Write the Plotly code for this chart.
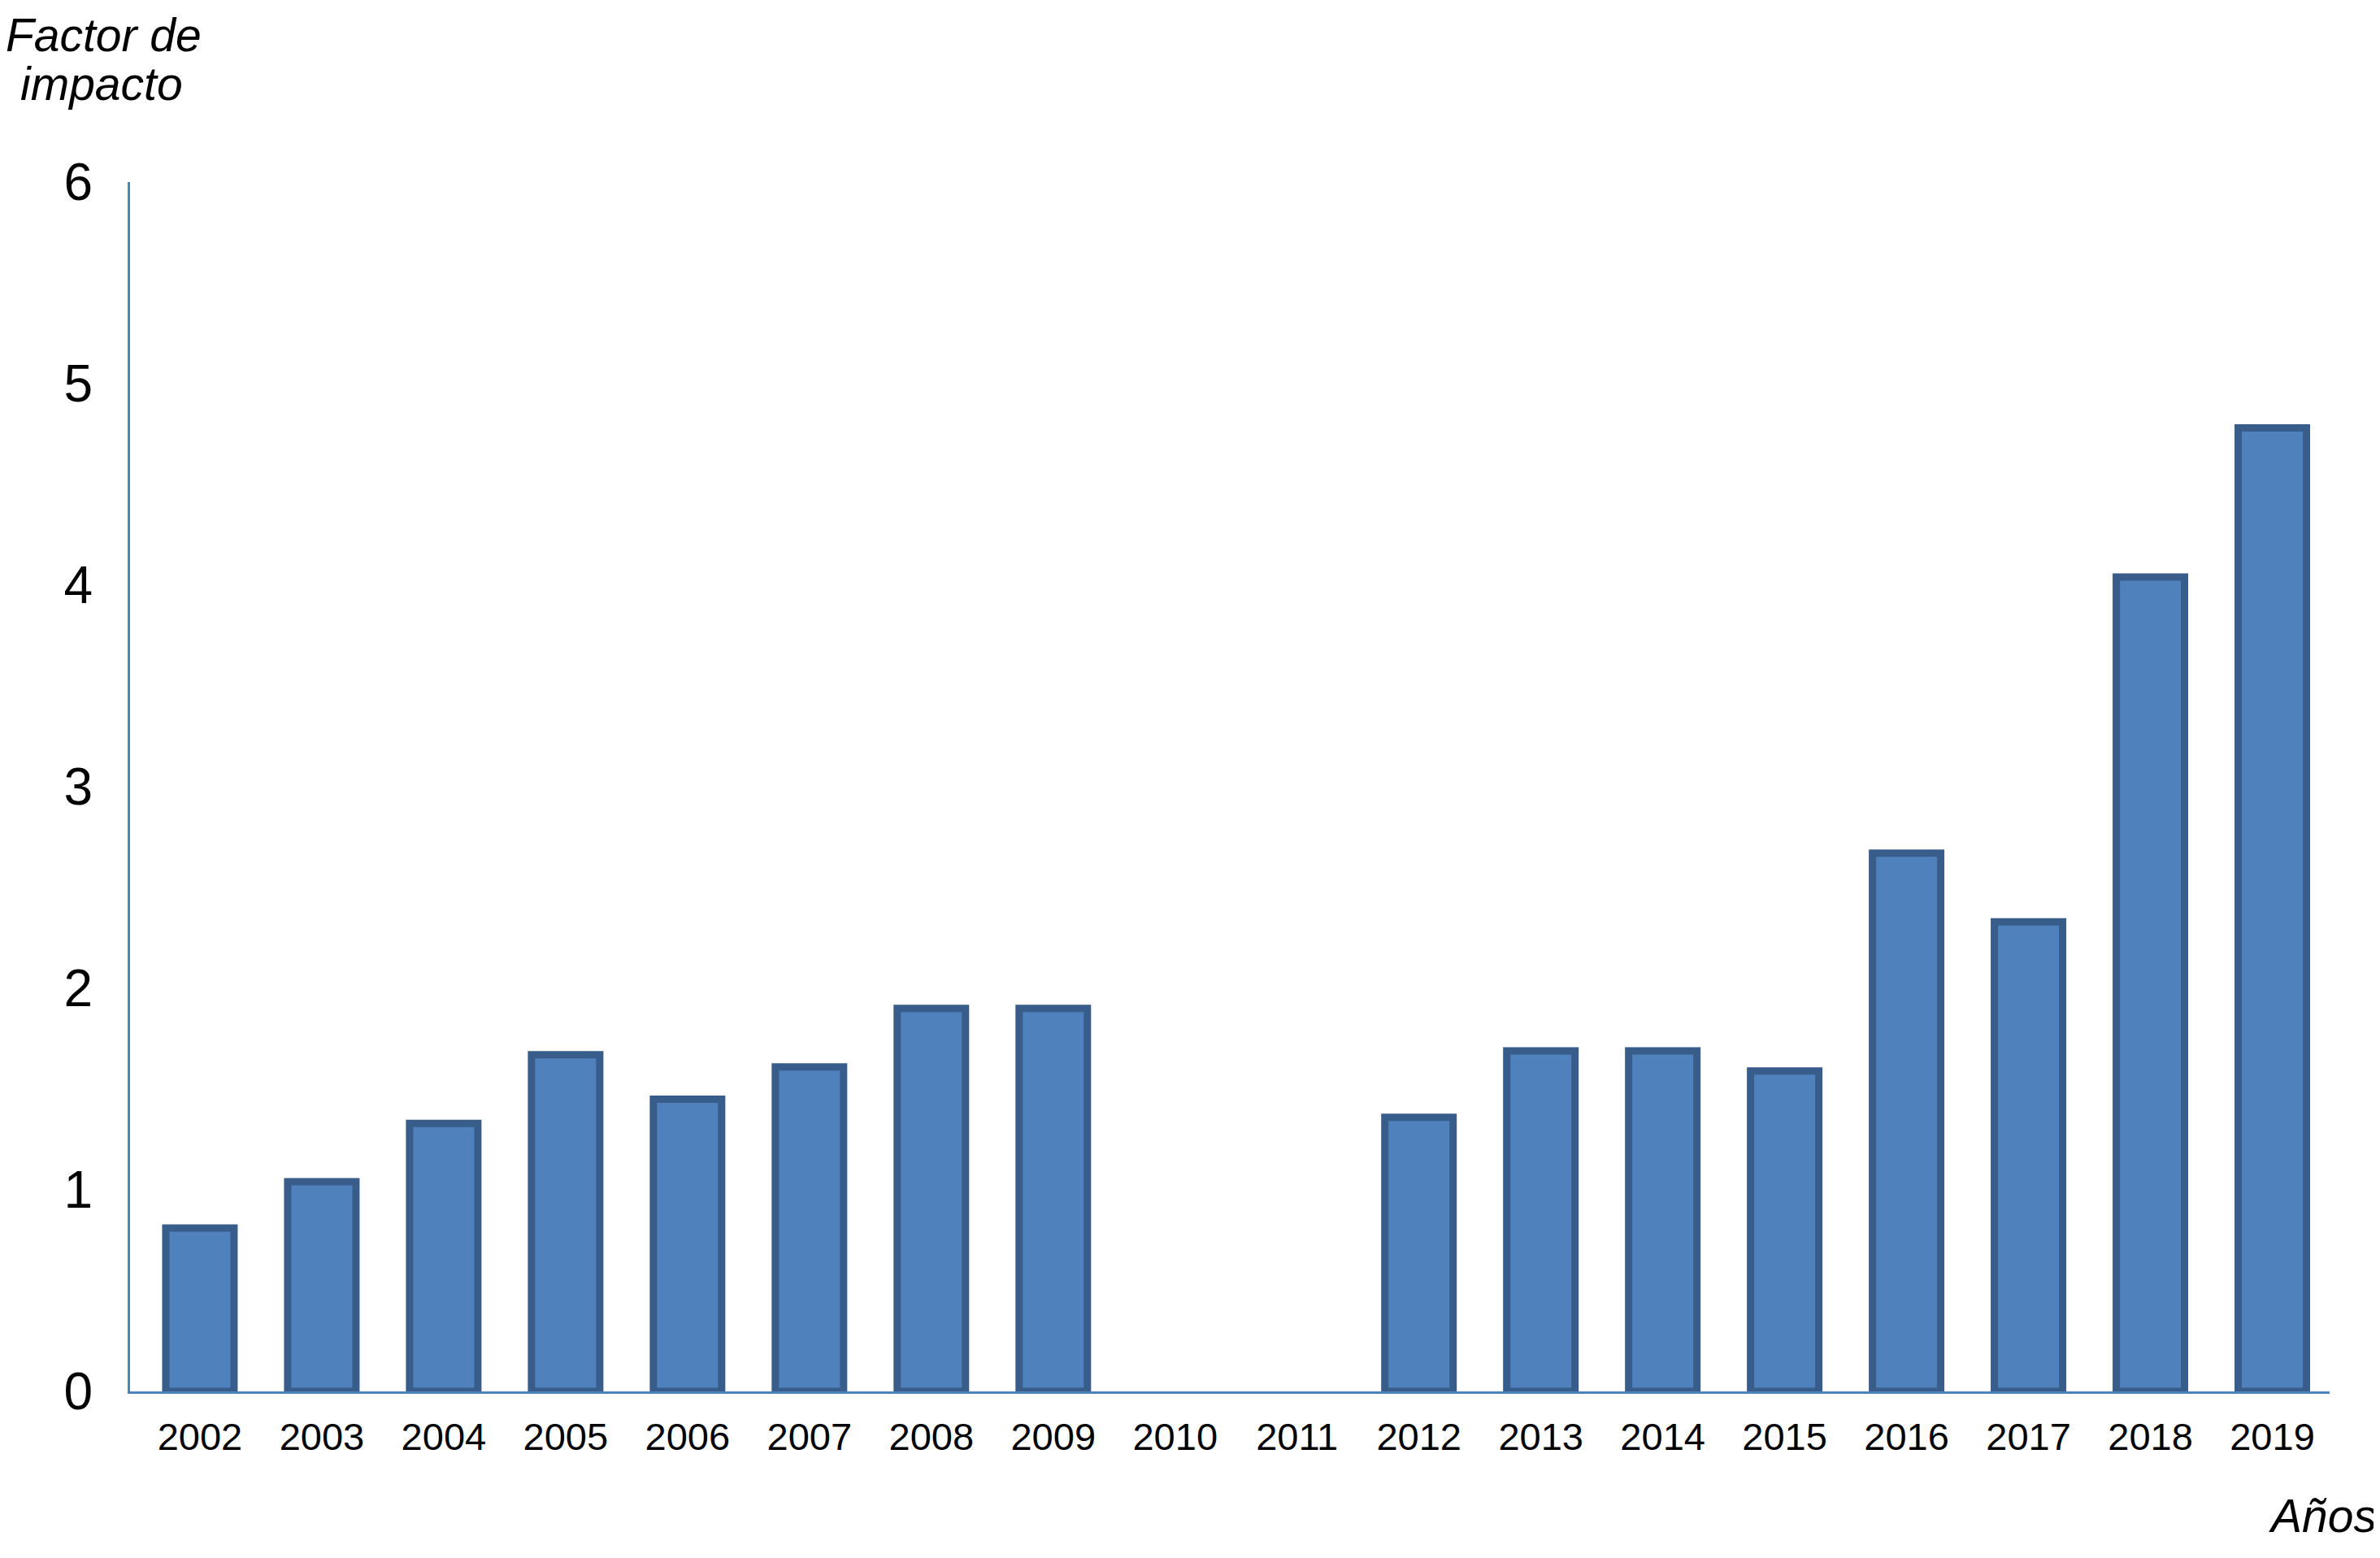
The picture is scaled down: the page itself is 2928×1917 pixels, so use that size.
import plotly.graph_objects as go

years = ["2002", "2003", "2004", "2005", "2006", "2007", "2008", "2009", "2010",
         "2011", "2012", "2013", "2014", "2015", "2016", "2017", "2018", "2019"]
impact = [0.81, 1.04, 1.33, 1.67, 1.45, 1.61, 1.90, 1.90, None,
          None, 1.36, 1.69, 1.69, 1.59, 2.67, 2.33, 4.04, 4.78]
y_ticks = [0, 1, 2, 3, 4, 5, 6]

# page body has an 8px margin, so the figure is 8px smaller than the window
W, H = 2920, 1909
L, R, T, B = 152, 62, 216, 205
font_family = "Liberation Sans, Arial, Helvetica, sans-serif"

fig = go.Figure()
fig.add_trace(go.Bar(
    x=years, y=impact, width=0.56,
    marker=dict(color="#4F81BD", line=dict(color="#385D8A", width=9)),
    cliponaxis=False,
))

plot_w = W - L - R
plot_h = H - T - B
fig.update_layout(
    width=W, height=H,
    margin=dict(l=L, r=R, t=T, b=B, pad=0),
    paper_bgcolor="white", plot_bgcolor="white",
    showlegend=False,
    font=dict(family=font_family, color="black"),
    xaxis=dict(
        type="category", range=[-0.573, 17.47],
        showline=True, linecolor="#4F81BD", linewidth=3,
        showgrid=False, zeroline=False, ticks="",
        tickfont=dict(size=47, family=font_family, color="black"),
        ticklabelstandoff=13,
    ),
    yaxis=dict(
        range=[0, 6], tickvals=y_ticks,
        showline=True, linecolor="#4F81BD", linewidth=3,
        showgrid=False, zeroline=False, ticks="",
        tickfont=dict(size=64, family=font_family, color="black"),
        ticklabelstandoff=30,
    ),
    annotations=[
        dict(text="<i>Factor de</i>", xref="paper", yref="paper",
             x=(119 - L) / plot_w, y=1 + (T - 1) / plot_h,
             xanchor="center", yanchor="top", showarrow=False,
             font=dict(size=57, family=font_family, color="black")),
        dict(text="<i>impacto</i>", xref="paper", yref="paper",
             x=(117 - L) / plot_w, y=1 + (T - 95) / plot_h,
             xanchor="center", yanchor="middle", showarrow=False,
             font=dict(size=57, family=font_family, color="black")),
        dict(text="<i>Años</i>", xref="paper", yref="paper",
             x=(W - 2 - L) / plot_w, y=-(1857 - (H - B)) / plot_h,
             xanchor="right", yanchor="middle", showarrow=False,
             font=dict(size=57, family=font_family, color="black")),
    ],
)

fig.write_html("out.html")
